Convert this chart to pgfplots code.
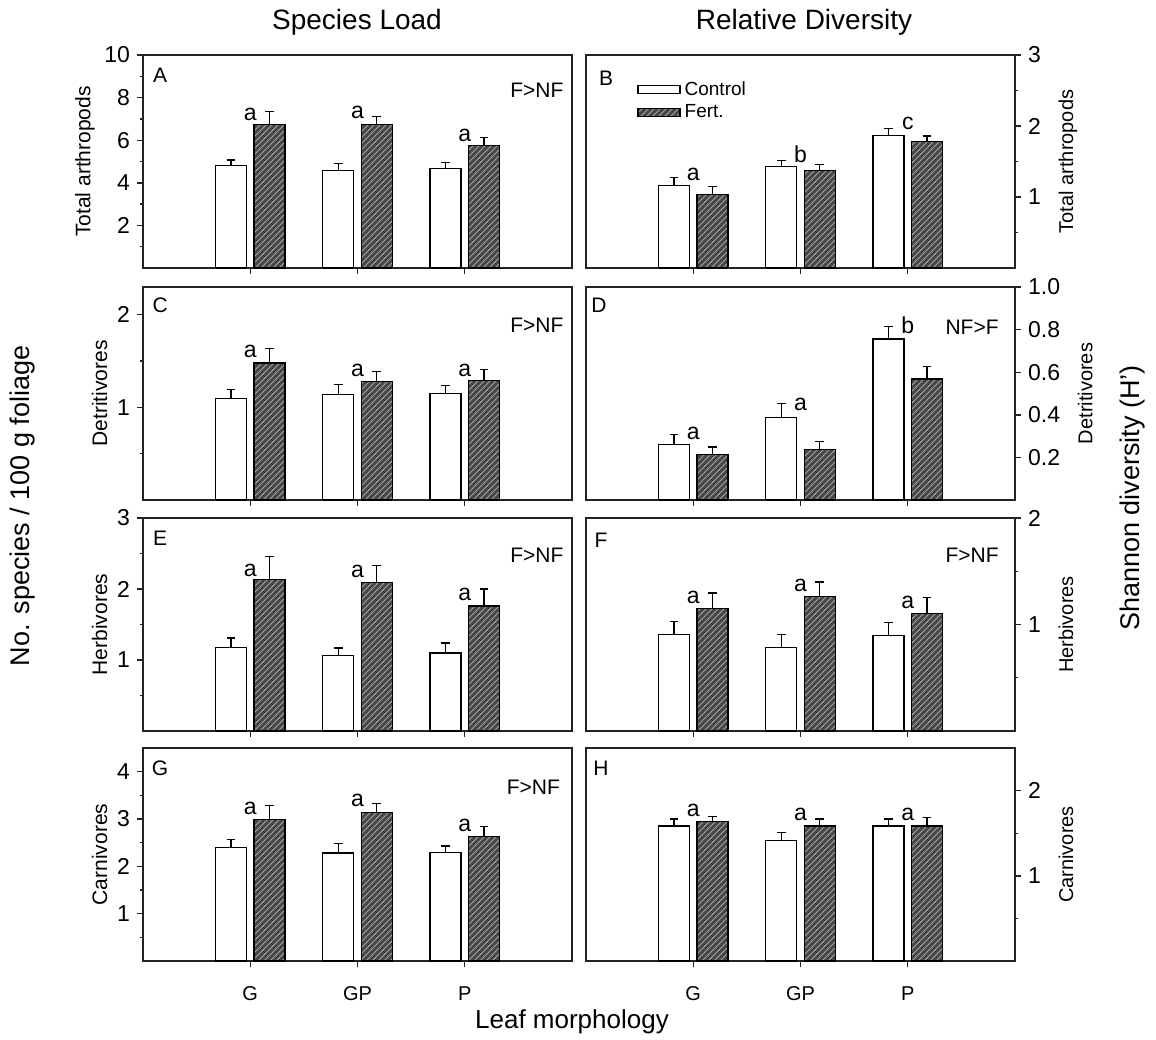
\documentclass[border=0pt]{standalone}
\usepackage{fontspec}
\setmainfont{Liberation Sans}
\usepackage{pgfplots}
\pgfplotsset{compat=1.18}
\usetikzlibrary{patterns}

\definecolor{axisgray}{RGB}{35,35,35}
\definecolor{fertfill}{RGB}{70,70,70}
\definecolor{hatch}{RGB}{165,165,165}
\newcommand\fs[1]{\fontsize{#1}{#1}\selectfont}

\tikzset{
  sig/.style={font=\fs{11.5}, anchor=base},
  plab/.style={font=\fs{10.5}},
}
% bars sit at x = category -/+ 0.18 (category ticks at 1, 2, 3)
\pgfplotsset{
  panel/.style={scale only axis, width=214.5pt, height=106.5pt,
    xmin=0, xmax=4, ymin=0, xtick={1,2,3}, xticklabels={},
    xtick pos=lower, tick align=outside,
    major tick length=3pt, minor tick length=1.6pt,
    axis line style={line width=0.8pt, axisgray},
    tick style={line width=0.7pt, axisgray},
    tick label style={font=\fs{11.5}},
    /pgf/number format/assume math mode=true,
    ylabel style={font=\fs{10.5}},
    clip=false},
  lpanel/.style={panel, ytick pos=left, ylabel style={xshift=0pt, yshift=-2pt}},
  rpanel/.style={panel, ytick pos=right, yticklabel pos=right, ylabel near ticks,
    ylabel style={yshift=-2pt}},
  bottomrow/.style={xticklabels={G,GP,P},
    xticklabel style={font=\fs{10}, text height=1.4ex, text depth=0pt, yshift=-6pt}},
  ctrl/.style={ybar, bar width=15.5pt, bar shift=0pt, fill=white, draw=black, line width=0.6pt,
    error bars/.cd, y dir=plus, y explicit, error bar style={line width=0.6pt, black},
    error mark options={rotate=90, mark size=2.2pt, line width=0.6pt, black}},
  fert/.style={ybar, bar width=15.5pt, bar shift=0pt, fill=fertfill,
    postaction={pattern=north east lines, pattern color=hatch}, draw=black, line width=0.6pt,
    error bars/.cd, y dir=plus, y explicit, error bar style={line width=0.6pt, black},
    error mark options={rotate=90, mark size=2.2pt, line width=0.6pt, black}},
}

\begin{document}
\begin{tikzpicture}
\path[use as bounding box] (0,0) rectangle (578pt,-519.5pt);

% ---- A
\begin{axis}[lpanel, at={(71.5pt,-27.5pt)}, anchor=north west,
  ymax=10, ytick={2,4,6,8,10}, minor ytick={1,3,5,7,9}, ylabel={Total arthropods}]
\addplot[ctrl] coordinates {(0.82,4.80) +- (0,0.27) (1.82,4.58) +- (0,0.34) (2.82,4.69) +- (0,0.28)};
\addplot[fert] coordinates {(1.18,6.72) +- (0,0.64) (2.18,6.75) +- (0,0.37) (3.18,5.75) +- (0,0.37)};
\node[plab] at (rel axis cs:0.04,0.905) {A};
\node[plab] at (rel axis cs:0.918,0.836) {F>NF};
\node[sig] at (axis cs:1,6.92) {a};
\node[sig] at (axis cs:2,7.0) {a};
\node[sig] at (axis cs:3,5.94) {a};
\end{axis}

% ---- B
\begin{axis}[rpanel, at={(293pt,-27.5pt)}, anchor=north west,
  ymax=3, ytick={1,2,3}, minor ytick={0.5,1.5,2.5}, ylabel={Total arthropods},
  legend style={at={(rel axis cs:0.105,0.915)}, anchor=north west, draw=none, fill=none,
    font=\fs{9.5}, row sep=-1pt, cells={anchor=west}},
  legend image code/.code={\draw[#1] (0pt,-2pt) rectangle (21pt,2pt);}]
\addplot[ctrl] coordinates {(0.82,1.16) +- (0,0.11) (1.82,1.43) +- (0,0.08) (2.82,1.87) +- (0,0.09)};
\addlegendentry{Control}
\addplot[fert] coordinates {(1.18,1.04) +- (0,0.11) (2.18,1.37) +- (0,0.09) (3.18,1.78) +- (0,0.08)};
\addlegendentry{Fert.}
\node[plab] at (rel axis cs:0.047,0.89) {B};
\node[sig] at (axis cs:1,1.23) {a};
\node[sig] at (axis cs:2,1.49) {b};
\node[sig] at (axis cs:3,1.95) {c};
\end{axis}

% ---- C
\begin{axis}[lpanel, at={(71.5pt,-143.5pt)}, anchor=north west,
  ymax=2.3, ytick={1,2}, minor ytick={0.5,1.5}, ylabel={Detritivores}]
\addplot[ctrl] coordinates {(0.82,1.10) +- (0,0.09) (1.82,1.14) +- (0,0.11) (2.82,1.15) +- (0,0.09)};
\addplot[fert] coordinates {(1.18,1.48) +- (0,0.16) (2.18,1.28) +- (0,0.11) (3.18,1.29) +- (0,0.12)};
\node[plab] at (rel axis cs:0.04,0.916) {C};
\node[plab] at (rel axis cs:0.918,0.822) {F>NF};
\node[sig] at (axis cs:1,1.54) {a};
\node[sig] at (axis cs:2,1.33) {a};
\node[sig] at (axis cs:3,1.33) {a};
\end{axis}

% ---- D
\begin{axis}[rpanel, at={(293pt,-143.5pt)}, anchor=north west,
  ymax=1.0, ytick={0.2,0.4,0.6,0.8,1.0}, ylabel={Detritivores},
  yticklabel style={/pgf/number format/.cd, fixed, fixed zerofill, precision=1}]
\addplot[ctrl] coordinates {(0.82,0.262) +- (0,0.047) (1.82,0.387) +- (0,0.066) (2.82,0.756) +- (0,0.060)};
\addplot[fert] coordinates {(1.18,0.215) +- (0,0.034) (2.18,0.238) +- (0,0.035) (3.18,0.568) +- (0,0.058)};
\node[plab] at (rel axis cs:0.03,0.915) {D};
\node[plab] at (rel axis cs:0.90,0.81) {NF>F};
\node[sig] at (axis cs:1,0.285) {a};
\node[sig] at (axis cs:2,0.419) {a};
\node[sig] at (axis cs:3,0.783) {b};
\end{axis}

% ---- E
\begin{axis}[lpanel, at={(71.5pt,-259pt)}, anchor=north west,
  ymax=3, ytick={1,2,3}, minor ytick={0.5,1.5,2.5}, ylabel={Herbivores}]
\addplot[ctrl] coordinates {(0.82,1.18) +- (0,0.13) (1.82,1.06) +- (0,0.11) (2.82,1.10) +- (0,0.14)};
\addplot[fert] coordinates {(1.18,2.13) +- (0,0.33) (2.18,2.09) +- (0,0.24) (3.18,1.76) +- (0,0.24)};
\node[plab] at (rel axis cs:0.04,0.906) {E};
\node[plab] at (rel axis cs:0.918,0.825) {F>NF};
\node[sig] at (axis cs:1,2.18) {a};
\node[sig] at (axis cs:2,2.16) {a};
\node[sig] at (axis cs:3,1.84) {a};
\end{axis}

% ---- F
\begin{axis}[rpanel, at={(293pt,-259pt)}, anchor=north west,
  ymax=2, ytick={1,2}, minor ytick={0.5,1.5}, ylabel={Herbivores}]
\addplot[ctrl] coordinates {(0.82,0.905) +- (0,0.12) (1.82,0.787) +- (0,0.118) (2.82,0.895) +- (0,0.121)};
\addplot[fert] coordinates {(1.18,1.152) +- (0,0.143) (2.18,1.26) +- (0,0.14) (3.18,1.105) +- (0,0.149)};
\node[plab] at (rel axis cs:0.035,0.896) {F};
\node[plab] at (rel axis cs:0.90,0.825) {F>NF};
\node[sig] at (axis cs:1,1.197) {a};
\node[sig] at (axis cs:2,1.31) {a};
\node[sig] at (axis cs:3,1.15) {a};
\end{axis}

% ---- G
\begin{axis}[lpanel, bottomrow, at={(71.5pt,-374pt)}, anchor=north west,
  ymax=4.5, ytick={1,2,3,4}, minor ytick={0.5,1.5,2.5,3.5}, ylabel={Carnivores}]
\addplot[ctrl] coordinates {(0.82,2.40) +- (0,0.17) (1.82,2.28) +- (0,0.21) (2.82,2.29) +- (0,0.14)};
\addplot[fert] coordinates {(1.18,2.99) +- (0,0.29) (2.18,3.13) +- (0,0.20) (3.18,2.63) +- (0,0.21)};
\node[plab] at (rel axis cs:0.04,0.906) {G};
\node[plab] at (rel axis cs:0.91,0.817) {F>NF};
\node[sig] at (axis cs:1,3.09) {a};
\node[sig] at (axis cs:2,3.26) {a};
\node[sig] at (axis cs:3,2.73) {a};
\end{axis}

% ---- H
\begin{axis}[rpanel, bottomrow, at={(293pt,-374pt)}, anchor=north west,
  ymax=2.5, ytick={1,2}, minor ytick={0.5,1.5}, ylabel={Carnivores}]
\addplot[ctrl] coordinates {(0.82,1.584) +- (0,0.083) (1.82,1.41) +- (0,0.10) (2.82,1.584) +- (0,0.083)};
\addplot[fert] coordinates {(1.18,1.635) +- (0,0.065) (2.18,1.584) +- (0,0.083) (3.18,1.584) +- (0,0.096)};
\node[plab] at (rel axis cs:0.035,0.906) {H};
\node[sig] at (axis cs:1,1.70) {a};
\node[sig] at (axis cs:2,1.655) {a};
\node[sig] at (axis cs:3,1.655) {a};
\end{axis}

% ---- outer titles and labels
\node[font=\fs{14}] at (178.5pt,-11pt) {Species Load};
\node[font=\fs{14}] at (402pt,-11pt) {Relative Diversity};
\node[font=\fs{13.5}, rotate=90] at (11.5pt,-253pt) {No. species / 100 g foliage};
\node[font=\fs{13.5}, rotate=90] at (566.5pt,-249pt) {Shannon diversity (H')};
\node[font=\fs{13}] at (286pt,-511pt) {Leaf morphology};
\end{tikzpicture}
\end{document}
